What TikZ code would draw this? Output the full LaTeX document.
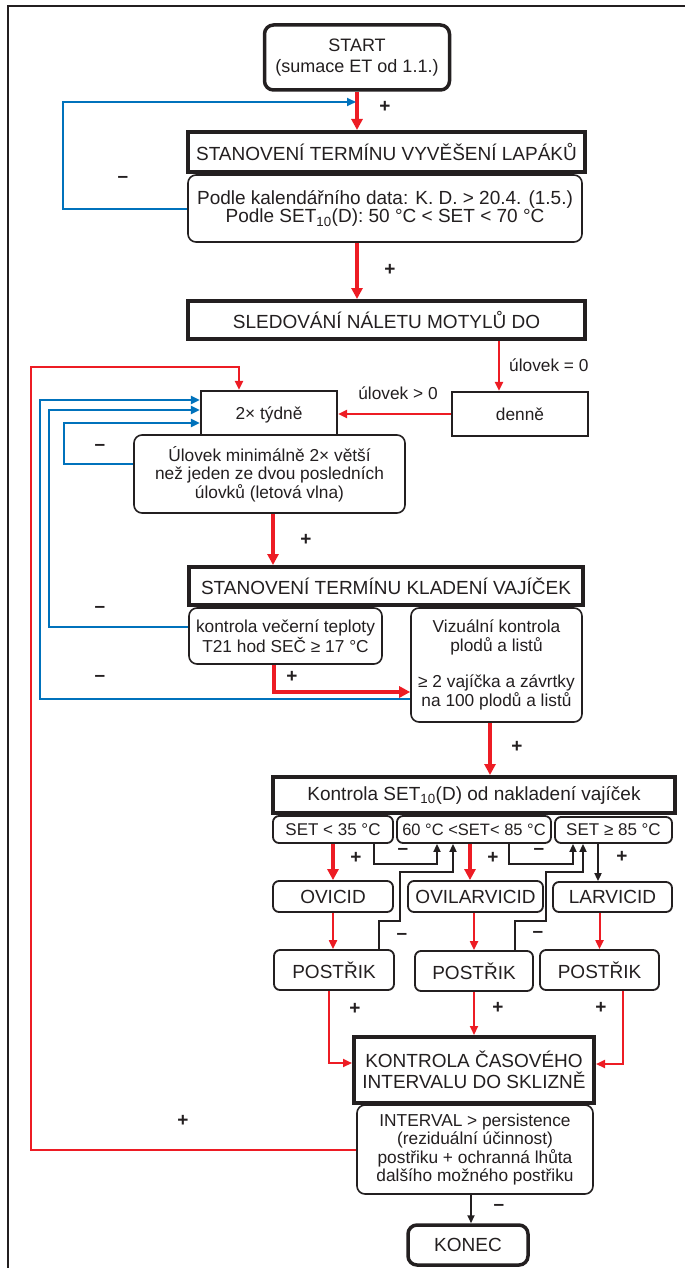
\documentclass[tikz,border=0pt]{standalone}
\usepackage{fontspec}
\setmainfont{Liberation Sans}
\usetikzlibrary{arrows.meta,calc}
\definecolor{ered}{RGB}{237,28,36}
\definecolor{eblue}{RGB}{0,114,188}
\definecolor{eblack}{RGB}{35,31,32}
\newcommand{\textsize}{\fontsize{19}{18.5}\selectfont}
\newcommand{\smallsize}{\fontsize{17.3}{18.5}\selectfont}
\newcommand{\marksign}[3]{\node[sign] (#1) at (#2) {#3};}

\begin{document}
\begin{tikzpicture}[x=1pt,y=-1pt,
	every node/.style={font=\textsize, text=eblack, align=center, inner sep=0pt},
	small/.style={font=\smallsize},
	bigbox/.style={draw=eblack, line width=4pt, fill=white},
	endbox/.style={draw=eblack, line width=3.5pt, rounded corners=9pt, fill=white},
	infobox/.style={draw=eblack, line width=1.6pt, rounded corners=8pt, fill=white},
	freqbox/.style={draw=eblack, line width=2.2pt, fill=white, small},
	setbox/.style={draw=eblack, line width=1.8pt, rounded corners=6pt, fill=white},
	sign/.style={font=\textsize\bfseries},
	redthick/.style={draw=ered, line width=3.6pt, -{Triangle[length=11pt,width=11pt]}},
	redthin/.style={draw=ered, line width=2pt, -{Triangle[length=9pt,width=8pt]}},
	blueline/.style={draw=eblue, line width=2pt, -{Triangle[length=9pt,width=8pt]}},
	blkline/.style={draw=eblack, line width=1.8pt, -{Triangle[length=8pt,width=7pt]}}]
	\useasboundingbox (0,0) rectangle (685,1268);
	\draw[eblack, line width=1.2pt] (8,1268) -- (8,6) -- (685,6);

	\node[endbox, minimum width=185pt, minimum height=65pt, font=\fontsize{18}{18.5}\selectfont] (start) at (357,57.5) {START\\[2.5pt](sumace ET od 1.1.)};
	\node[bigbox, minimum width=397pt, minimum height=40pt] (stan1) at (386.5,152) {STANOVENÍ TERMÍNU VYVĚŠENÍ LAPÁKŮ};
	\node[infobox, minimum width=394pt, minimum height=67pt] (podle) at (385,208.5) {Podle kalendářního data: K. D. > 20.4. (1.5.)\\Podle SET\textsubscript{10}(D): 50 °C < SET < 70 °C};
	\node[bigbox, minimum width=397pt, minimum height=38pt] (sled) at (386.5,320) {SLEDOVÁNÍ NÁLETU MOTYLŮ DO};
	\node[freqbox, minimum width=136pt, minimum height=48pt] (tyd) at (269,415) {2× týdně};
	\node[freqbox, minimum width=136pt, minimum height=44pt] (denne) at (520,414) {denně};
	\node[infobox, small, minimum width=271pt, minimum height=78pt] (ulovek) at (269.5,474) {Úlovek minimálně 2× větší\\než jeden ze dvou posledních\\úlovků (letová vlna)};
	\node[bigbox, minimum width=394pt, minimum height=38pt] (stan2) at (386,586) {STANOVENÍ TERMÍNU KLADENÍ VAJÍČEK};
	\node[infobox, small, minimum width=193pt, minimum height=56pt] (kontrola) at (285.5,636) {kontrola večerní teploty\\T21 hod SEČ ≥ 17 °C};
	\node[infobox, small, minimum width=171pt, minimum height=114pt] (vizual) at (496.5,665) {Vizuální kontrola\\plodů a listů\\[18pt]≥ 2 vajíčka a závrtky\\na 100 plodů a listů};
	\node[bigbox, minimum width=402pt, minimum height=36pt] (kset) at (474,795) {Kontrola SET\textsubscript{10}(D) od nakladení vajíček};
	\node[setbox, font=\fontsize{17}{18.5}\selectfont, minimum width=120pt, minimum height=27pt] (set1) at (333,829.5) {SET < 35 °C};
	\node[setbox, font=\fontsize{16.5}{18.5}\selectfont, minimum width=154pt, minimum height=27pt] (set2) at (474,829.5) {60 °C <SET< 85 °C};
	\node[setbox, font=\fontsize{17}{18.5}\selectfont, minimum width=117pt, minimum height=26pt] (set3) at (613.5,830) {SET ≥ 85 °C};
	\node[setbox, minimum width=120pt, minimum height=31pt] (ovicid) at (333,896.5) {OVICID};
	\node[setbox, minimum width=135pt, minimum height=31pt] (ovilar) at (475.5,896.5) {OVILARVICID};
	\node[setbox, minimum width=119pt, minimum height=30pt] (larvicid) at (612.5,897) {LARVICID};
	\node[setbox, minimum width=120pt, minimum height=40pt] (post1) at (334,970) {POSTŘIK};
	\node[setbox, minimum width=118pt, minimum height=40pt] (post2) at (474,971) {POSTŘIK};
	\node[setbox, minimum width=119pt, minimum height=40pt] (post3) at (599.5,970) {POSTŘIK};
	\node[bigbox, minimum width=240pt, minimum height=66pt] (kcas) at (474,1070) {KONTROLA ČASOVÉHO\\[2.5pt]INTERVALU DO SKLIZNĚ};
	\node[infobox, small, minimum width=236pt, minimum height=89pt] (interval) at (475,1149.5) {INTERVAL > persistence\\(reziduální účinnost)\\postřiku + ochranná lhůta\\dalšího možného postřiku};
	\node[endbox, minimum width=120pt, minimum height=40pt] (konec) at (468,1245) {KONEC};

	\node[small, anchor=west] (lbzero) at (509,365) {úlovek = 0};
	\node[small] (lbmore) at (398,393) {úlovek > 0};

	\coordinate (jstart) at (356,102);
	\coordinate (loopcorner) at (31,367);

	\draw[redthick] (start.south) -- (start.south |- stan1.north);
	\draw[blueline] (podle.west) -- ++(-124,0) |- (jstart);
	\draw[redthick] (start.south |- podle.south) -- (start.south |- sled.north);
	\draw[redthin] ([xshift=112.5pt]sled.south) -- ([xshift=112.5pt]sled.south |- denne.north);
	\draw[redthin] (denne.west) -- (denne.west -| tyd.east);
	\draw[redthin] (interval.west) -| (loopcorner) -| ([xshift=-30pt]tyd.north);
	\draw[blueline] ([yshift=-34pt]vizual.west) -- ++(-370,0) |- ([yshift=15pt]tyd.west);
	\draw[blueline] ([yshift=9pt]kontrola.west) -- ++(-139,0) |- ([yshift=5pt]tyd.west);
	\draw[blueline] ([yshift=10pt]ulovek.west) -- ++(-69,0) |- ([yshift=-8pt]tyd.west);
	\draw[redthick] ([xshift=3.5pt]ulovek.south) -- ([xshift=3.5pt]ulovek.south |- stan2.north);
	\draw[redthick] ([xshift=-11.5pt]kontrola.south) |- ([yshift=-27pt]vizual.west);
	\draw[redthick] ([xshift=-6.5pt]vizual.south) -- ([xshift=-6.5pt]vizual.south |- kset.north);
	\draw[redthick] (set1.south) -- (set1.south |- ovicid.north);
	\draw[blkline] ([xshift=41pt]set1.south) -- ++(0,20) -| ([xshift=-37pt]set2.south);
	\draw[blkline] ([xshift=45pt]post1.north) -- ++(0,-28) -| ++(21,-49) -| ([xshift=-21pt]set2.south);
	\draw[redthick] ([xshift=-4pt]set2.south) -- ([xshift=-4pt]set2.south |- ovilar.north);
	\draw[blkline] ([xshift=35pt]set2.south) -- ++(0,20) -| ([xshift=-40.5pt]set3.south);
	\draw[blkline] ([xshift=41pt]post2.north) -- ++(0,-29) -| ++(31,-49) -| ([xshift=-30.5pt]set3.south);
	\draw[blkline] ([xshift=-15.5pt]set3.south) -- ([xshift=-15.5pt]set3.south |- larvicid.north);
	\draw[redthin] (ovicid.south) -- (ovicid.south |- post1.north);
	\draw[redthin] (post2.north |- ovilar.south) -- (post2.north);
	\draw[redthin] (post3.north |- larvicid.south) -- (post3.north);
	\draw[redthin] ([xshift=-5pt]post1.south) |- ([yshift=7pt]kcas.west);
	\draw[redthin] (post2.south) -- (post2.south |- kcas.north);
	\draw[redthin] ([xshift=23.5pt]post3.south) |- ([yshift=6pt]kcas.east);
	\draw[blkline] ([xshift=-4pt]interval.south) -- ([xshift=-4pt]interval.south |- konec.north);

	\marksign{p1}{385,107}{+}
	\marksign{m1}{123,179}{–}
	\marksign{p2}{390,270}{+}
	\marksign{m2}{100,447}{–}
	\marksign{p3}{306,540}{+}
	\marksign{m3}{100,609}{–}
	\marksign{m4}{100,678}{–}
	\marksign{p4}{292,677}{+}
	\marksign{p5}{517,747}{+}
	\marksign{p6}{356,858}{+}
	\marksign{m5}{403,851}{–}
	\marksign{p7}{493,858}{+}
	\marksign{m6}{539,851}{–}
	\marksign{p8}{622,857}{+}
	\marksign{m7}{402,936}{–}
	\marksign{m8}{538,934}{–}
	\marksign{p9}{355,1009}{+}
	\marksign{p10}{498,1008}{+}
	\marksign{p11}{601,1008}{+}
	\marksign{p12}{183,1121}{+}
	\marksign{m9}{499,1207}{–}
\end{tikzpicture}
\end{document}
